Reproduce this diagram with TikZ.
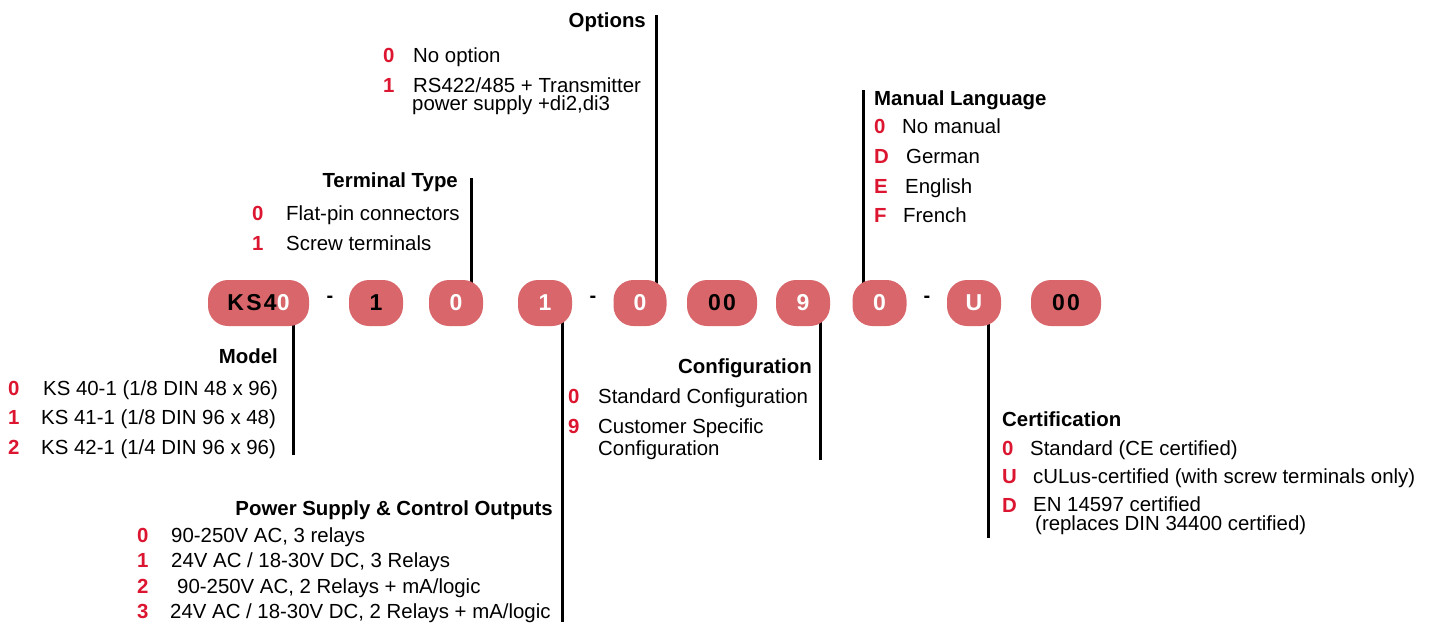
\documentclass[tikz,border=0pt]{standalone}
\usepackage{fontspec}
\setmainfont{Liberation Sans}
\usetikzlibrary{backgrounds}
\definecolor{pillred}{RGB}{216,102,107}
\definecolor{codered}{RGB}{220,22,48}
\begin{document}
\begin{tikzpicture}[x=1pt,y=-1pt,
  every node/.style={inner sep=0pt, font=\fontsize{20.4}{24}\selectfont},
  pillbox/.style={fill=pillred, rounded corners=20pt, minimum height=46pt,
    font=\fontsize{23}{24}\selectfont\bfseries\addfontfeature{LetterSpace=10}},
  head/.style={font=\fontsize{20.4}{24}\selectfont\bfseries},
  num/.style={text=codered, font=\fontsize{20.4}{24}\selectfont\bfseries, anchor=base west},
  item/.style={anchor=base west},
  twoline/.style={anchor=base west, align=left, font=\fontsize{20.4}{#1}\selectfont},
  sep/.style={font=\fontsize{20}{24}\selectfont\bfseries},
  leader/.style={line width=3pt}]
\useasboundingbox (0,0) rectangle (1435,622);

% pills
\node[pillbox, minimum width=101pt] (p1) at (258.5,303) {KS4\textcolor{white}{0}};
\node[sep] (d1) at (330,299) {-};
\node[pillbox, minimum width=54pt] (p2) at (376,303) {1};
\node[pillbox, minimum width=54pt, text=white] (p3) at (456,303) {0};
\node[pillbox, minimum width=54pt, text=white] (p4) at (545,303) {1};
\node[sep] (d2) at (593,299) {-};
\node[pillbox, minimum width=53pt, text=white] (p5) at (640,303) {0};
\node[pillbox, minimum width=70pt] (p6) at (722,303) {00};
\node[pillbox, minimum width=54pt, text=white] (p7) at (803,303) {9};
\node[pillbox, minimum width=54pt, text=white] (p8) at (879.5,303) {0};
\node[sep] (d3) at (927,299) {-};
\node[pillbox, minimum width=54pt, text=white] (p9) at (974,303) {U};
\node[pillbox, minimum width=70pt] (p10) at (1066,303) {00};

% leader ends
\coordinate (optTop) at (656,15);
\coordinate (termTop) at (471,178);
\coordinate (manTop) at (863,90);
\coordinate (modBot) at (293,455);
\coordinate (powBot) at (562,622);
\coordinate (cfgBot) at (820,460);
\coordinate (cerBot) at (988,538);
\begin{scope}[on background layer]
\draw[leader] (optTop) -- (optTop |- p5.center);
\draw[leader] (termTop) -- (termTop |- p3.center);
\draw[leader] (manTop) -- (manTop |- p8.center);
\draw[leader] (modBot |- p1.center) -- (modBot);
\draw[leader] (powBot |- p4.center) -- (powBot);
\draw[leader] (cfgBot |- p7.center) -- (cfgBot);
\draw[leader] (cerBot |- p9.center) -- (cerBot);
\end{scope}

% Options
\node[head, anchor=base east] (optH) at (646,27) {Options};
\node[num] (opt0n) at (383,62) {0};
\node[item] (opt0) at (413,62) {No option};
\node[num] (opt1n) at (383,92) {1};
\node[twoline=18] (opt1) at (413,110) {RS422/485 + Transmitter\\\hspace*{-1pt}power supply +di2,di3};

% Terminal Type
\node[head, anchor=base east] (termH) at (458,187) {Terminal Type};
\node[num] (term0n) at (252,220) {0};
\node[item] (term0) at (286,220) {Flat-pin connectors};
\node[num] (term1n) at (252,250) {1};
\node[item] (term1) at (286,250) {Screw terminals};

% Manual Language
\node[head, anchor=base west] (manH) at (874,105) {Manual Language};
\node[num] (man0n) at (874,133) {0};
\node[item] (man0) at (902,133) {No manual};
\node[num] (manDn) at (874,163) {D};
\node[item] (manD) at (906,163) {German};
\node[num] (manEn) at (874,193) {E};
\node[item] (manE) at (905,193) {English};
\node[num] (manFn) at (874,222) {F};
\node[item] (manF) at (903,222) {French};

% Model
\node[head, anchor=base east] (modH) at (278,363) {Model};
\node[num] (mod0n) at (8,395) {0};
\node[item] (mod0) at (43,395) {KS 40-1 (1/8 DIN 48 x 96)};
\node[num] (mod1n) at (8,424) {1};
\node[item] (mod1) at (41,424) {KS 41-1 (1/8 DIN 96 x 48)};
\node[num] (mod2n) at (8,454) {2};
\node[item] (mod2) at (41,454) {KS 42-1 (1/4 DIN 96 x 96)};

% Power Supply
\node[head, anchor=base east] (powH) at (553,515) {Power Supply \& Control Outputs};
\node[num] (pow0n) at (137,542) {0};
\node[item] (pow0) at (171,542) {90-250V AC, 3 relays};
\node[num] (pow1n) at (137,567) {1};
\node[item] (pow1) at (171,567) {24V AC / 18-30V DC, 3 Relays};
\node[num] (pow2n) at (137,593) {2};
\node[item] (pow2) at (177,593) {90-250V AC, 2 Relays + mA/logic};
\node[num] (pow3n) at (137,618) {3};
\node[item] (pow3) at (170,618) {24V AC / 18-30V DC, 2 Relays + mA/logic};

% Configuration
\node[head, anchor=base east] (cfgH) at (812,373) {Configuration};
\node[num] (cfg0n) at (568,403) {0};
\node[item] (cfg0) at (598,403) {Standard Configuration};
\node[num] (cfg9n) at (568,433) {9};
\node[twoline=22] (cfg9) at (598,455) {Customer Specific\\Configuration};

% Certification
\node[head, anchor=base west] (cerH) at (1002,426) {Certification};
\node[num] (cer0n) at (1002,455) {0};
\node[item] (cer0) at (1030,455) {Standard (CE certified)};
\node[num] (cerUn) at (1002,483) {U};
\node[item] (cerU) at (1033,483) {cULus-certified (with screw terminals only)};
\node[num] (cerDn) at (1002,512) {D};
\node[twoline=18.5] (cerD) at (1033,530) {EN 14597 certified\\\hspace*{2pt}(replaces DIN 34400 certified)};
\end{tikzpicture}
\end{document}
